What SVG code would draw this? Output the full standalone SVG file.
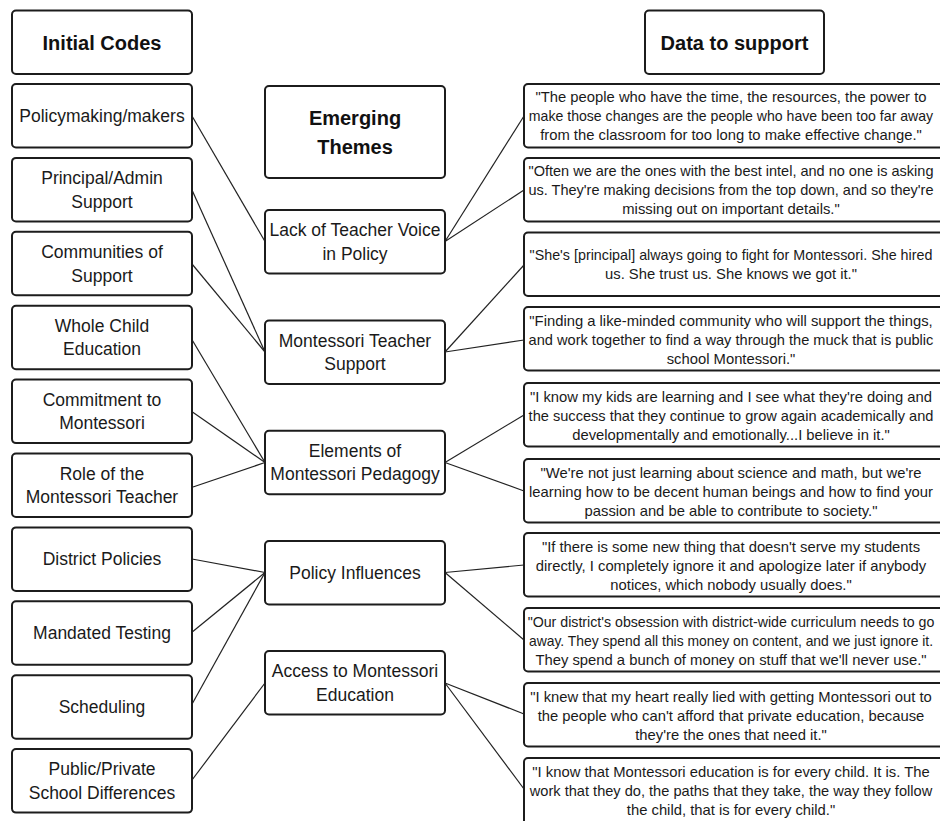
<svg xmlns="http://www.w3.org/2000/svg" width="940" height="821" viewBox="0 0 940 821">
<style>
.box{fill:#fff;stroke:#1c1c1c;stroke-width:2}
.hd{font-family:"Liberation Sans",Arial,sans-serif;font-weight:bold;font-size:20px;fill:#111;text-anchor:middle}
.lb{font-family:"Liberation Sans",Arial,sans-serif;font-size:17.5px;fill:#1a1a1a;text-anchor:middle}
.q{font-family:"Liberation Sans",Arial,sans-serif;font-size:14.8px;fill:#1a1a1a;text-anchor:middle}
.cn line{stroke:#222;stroke-width:1.2}
</style>
<rect width="940" height="821" fill="#fff"/>
<g id="connectors" class="cn">
<line x1="192" y1="116" x2="265" y2="241.5"/>
<line x1="192" y1="190" x2="265" y2="352"/>
<line x1="192" y1="264" x2="265" y2="352"/>
<line x1="191" y1="338" x2="265" y2="462.5"/>
<line x1="191" y1="411" x2="265" y2="462.5"/>
<line x1="193" y1="487" x2="265" y2="462.5"/>
<line x1="192" y1="559" x2="265" y2="572.5"/>
<line x1="191" y1="633" x2="265" y2="572.5"/>
<line x1="191" y1="706" x2="265" y2="572.5"/>
<line x1="192" y1="780" x2="265" y2="683"/>
<line x1="445" y1="241.5" x2="524" y2="116"/>
<line x1="445" y1="241.5" x2="524" y2="190"/>
<line x1="445" y1="352" x2="524" y2="265"/>
<line x1="445" y1="352" x2="524" y2="340"/>
<line x1="445" y1="462.5" x2="524" y2="415"/>
<line x1="445" y1="462.5" x2="524" y2="491"/>
<line x1="445" y1="572.5" x2="524" y2="565"/>
<line x1="445" y1="572.5" x2="524" y2="640"/>
<line x1="445" y1="683" x2="524" y2="714"/>
<line x1="445" y1="683" x2="524" y2="789"/>
</g>
<g id="h-initial"><rect class="box" x="12" y="10.5" width="180" height="63.5" rx="4"/><text class="hd" x="102" y="49.5">Initial Codes</text></g>
<g id="h-themes"><rect class="box" x="265" y="86" width="180" height="92" rx="4"/><text class="hd" x="355" y="125">Emerging</text><text class="hd" x="355" y="154">Themes</text></g>
<g id="h-data"><rect class="box" x="645" y="10.5" width="179" height="63.5" rx="4"/><text class="hd" x="734.5" y="49.5">Data to support</text></g>

<g id="c1"><rect class="box" x="12" y="84" width="180" height="63.5" rx="4"/><text class="lb" x="102" y="122">Policymaking/makers</text></g>
<g id="c2"><rect class="box" x="12" y="157.9" width="180" height="63.5" rx="4"/><text class="lb" x="102" y="184">Principal/Admin</text><text class="lb" x="102" y="207.5">Support</text></g>
<g id="c3"><rect class="box" x="12" y="231.8" width="180" height="63.5" rx="4"/><text class="lb" x="102" y="258">Communities of</text><text class="lb" x="102" y="281.5">Support</text></g>
<g id="c4"><rect class="box" x="12" y="305.7" width="180" height="63.5" rx="4"/><text class="lb" x="102" y="331.5">Whole Child</text><text class="lb" x="102" y="355">Education</text></g>
<g id="c5"><rect class="box" x="12" y="379.6" width="180" height="63.5" rx="4"/><text class="lb" x="102" y="405.5">Commitment to</text><text class="lb" x="102" y="429">Montessori</text></g>
<g id="c6"><rect class="box" x="12" y="453.5" width="180" height="63.5" rx="4"/><text class="lb" x="102" y="479.5">Role of the</text><text class="lb" x="102" y="503">Montessori Teacher</text></g>
<g id="c7"><rect class="box" x="12" y="527.4" width="180" height="63.5" rx="4"/><text class="lb" x="102" y="565">District Policies</text></g>
<g id="c8"><rect class="box" x="12" y="601.3" width="180" height="63.5" rx="4"/><text class="lb" x="102" y="639">Mandated Testing</text></g>
<g id="c9"><rect class="box" x="12" y="675.2" width="180" height="63.5" rx="4"/><text class="lb" x="102" y="713">Scheduling</text></g>
<g id="c10"><rect class="box" x="12" y="749.1" width="180" height="63.5" rx="4"/><text class="lb" x="102" y="775">Public/Private</text><text class="lb" x="102" y="798.5">School Differences</text></g>

<g id="t1"><rect class="box" x="265" y="210" width="180" height="63.5" rx="4"/><text class="lb" x="355" y="236">Lack of Teacher Voice</text><text class="lb" x="355" y="259.5">in Policy</text></g>
<g id="t2"><rect class="box" x="265" y="320.5" width="180" height="63.5" rx="4"/><text class="lb" x="355" y="346.5">Montessori Teacher</text><text class="lb" x="355" y="370">Support</text></g>
<g id="t3"><rect class="box" x="265" y="430.7" width="180" height="63.5" rx="4"/><text class="lb" x="355" y="456.5">Elements of</text><text class="lb" x="355" y="480">Montessori Pedagogy</text></g>
<g id="t4"><rect class="box" x="265" y="541" width="180" height="63.5" rx="4"/><text class="lb" x="355" y="578.5">Policy Influences</text></g>
<g id="t5"><rect class="box" x="265" y="651" width="180" height="63.5" rx="4"/><text class="lb" x="355" y="677">Access to Montessori</text><text class="lb" x="355" y="700.5">Education</text></g>

<g id="q1"><rect class="box" x="524" y="84" width="420" height="63.5" rx="4"/><text class="q" x="731" y="102">"The people who have the time, the resources, the power to</text><text class="q" x="731" y="121" style="font-size:14.1px">make those changes are the people who have been too far away</text><text class="q" x="731" y="140">from the classroom for too long to make effective change."</text></g>
<g id="q2"><rect class="box" x="524" y="158" width="420" height="63.5" rx="4"/><text class="q" x="731" y="176" style="font-size:14.5px">"Often we are the ones with the best intel, and no one is asking</text><text class="q" x="731" y="195" style="font-size:14.5px">us. They're making decisions from the top down, and so they're</text><text class="q" x="731" y="214">missing out on important details."</text></g>
<g id="q3"><rect class="box" x="524" y="232.5" width="420" height="63.5" rx="4"/><text class="q" x="731" y="260" style="font-size:14.3px">"She's [principal] always going to fight for Montessori. She hired</text><text class="q" x="731" y="279">us. She trust us. She knows we got it."</text></g>
<g id="q4"><rect class="box" x="524" y="307" width="420" height="63.5" rx="4"/><text class="q" x="731" y="326">"Finding a like-minded community who will support the things,</text><text class="q" x="731" y="345" style="font-size:14.6px">and work together to find a way through the muck that is public</text><text class="q" x="731" y="364">school Montessori."</text></g>
<g id="q5"><rect class="box" x="524" y="383" width="420" height="63.5" rx="4"/><text class="q" x="731" y="401.5">"I know my kids are learning and I see what they're doing and</text><text class="q" x="731" y="420.5" style="font-size:14.6px">the success that they continue to grow again academically and</text><text class="q" x="731" y="439.5">developmentally and emotionally...I believe in it."</text></g>
<g id="q6"><rect class="box" x="524" y="459" width="420" height="63.5" rx="4"/><text class="q" x="731" y="477.5">"We're not just learning about science and math, but we're</text><text class="q" x="731" y="496.5">learning how to be decent human beings and how to find your</text><text class="q" x="731" y="515.5">passion and be able to contribute to society."</text></g>
<g id="q7"><rect class="box" x="524" y="533" width="420" height="63.5" rx="4"/><text class="q" x="731" y="551.5">"If there is some new thing that doesn't serve my students</text><text class="q" x="731" y="570.5">directly, I completely ignore it and apologize later if anybody</text><text class="q" x="731" y="589.5">notices, which nobody usually does."</text></g>
<g id="q8"><rect class="box" x="524" y="608" width="420" height="63.5" rx="4"/><text class="q" x="731" y="626.5" style="font-size:14.2px">"Our district's obsession with district-wide curriculum needs to go</text><text class="q" x="731" y="645.5" style="font-size:13.9px">away. They spend all this money on content, and we just ignore it.</text><text class="q" x="731" y="664.5">They spend a bunch of money on stuff that we'll never use."</text></g>
<g id="q9"><rect class="box" x="524" y="683" width="420" height="63.5" rx="4"/><text class="q" x="731" y="701.5">"I knew that my heart really lied with getting Montessori out to</text><text class="q" x="731" y="720.5">the people who can't afford that private education, because</text><text class="q" x="731" y="739.5">they're the ones that need it."</text></g>
<g id="q10"><rect class="box" x="524" y="758" width="420" height="70" rx="4"/><text class="q" x="731" y="776.5">"I know that Montessori education is for every child. It is. The</text><text class="q" x="731" y="795.5" style="font-size:14.6px">work that they do, the paths that they take, the way they follow</text><text class="q" x="731" y="814.5">the child, that is for every child."</text></g>
</svg>
